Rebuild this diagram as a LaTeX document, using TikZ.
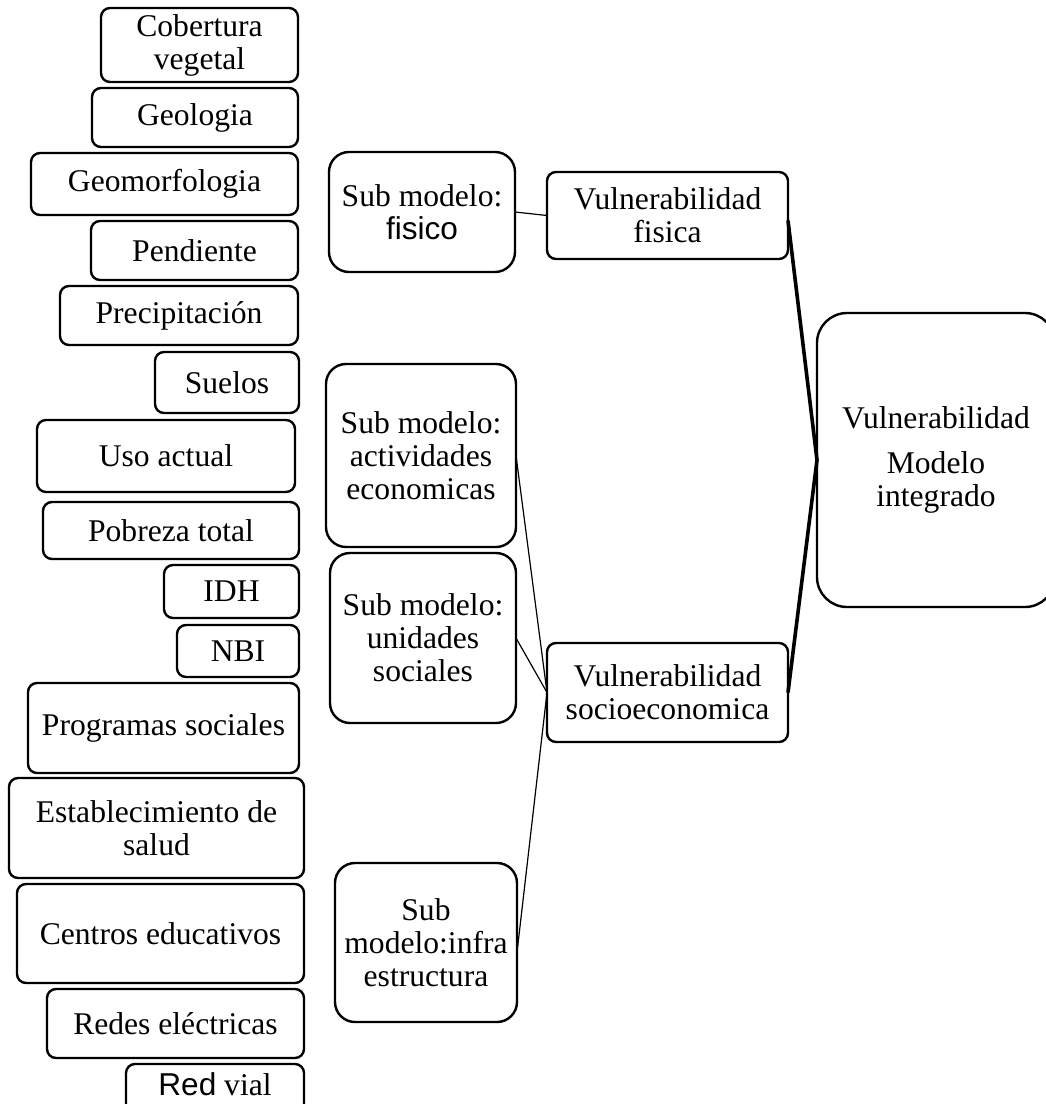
\documentclass[tikz,border=0pt]{standalone}
\usepackage{fontspec}
\setmainfont{Liberation Serif}
\newfontfamily\arialfont{Liberation Sans}
\begin{document}
\begin{tikzpicture}[x=1pt,y=-1pt,
  box/.style={draw, line width=2.4pt, rounded corners=9pt, align=center,
    inner sep=0pt, outer sep=0pt, font=\fontsize{31.6}{33}\selectfont},
  subbox/.style={box, rounded corners=20pt},
  bigbox/.style={box, rounded corners=30pt},
  thinlink/.style={line width=1.2pt},
  thicklink/.style={line width=3.6pt}]
\useasboundingbox (0,0) rectangle (1046,1104);

% input layers
\node[box, minimum width=197pt, minimum height=74pt]  (cob)  at (199.5,45)    {Cobertura\\vegetal};
\node[box, minimum width=206pt, minimum height=59pt]  (geo)  at (195,117.5)   {Geologia};
\node[box, minimum width=267pt, minimum height=62pt]  (gmf)  at (164.5,184)   {Geomorfologia};
\node[box, minimum width=207pt, minimum height=59pt]  (pen)  at (194.5,250.5) {Pendiente};
\node[box, minimum width=238pt, minimum height=59pt]  (pre)  at (179,315.5)   {Precipitación};
\node[box, minimum width=144pt, minimum height=61pt]  (sue)  at (227,382.5)   {Suelos};
\node[box, minimum width=258pt, minimum height=72pt]  (uso)  at (166,456)     {Uso actual};
\node[box, minimum width=256pt, minimum height=57pt]  (pob)  at (171,530.5)   {Pobreza total};
\node[box, minimum width=135pt, minimum height=53pt]  (idh)  at (231.5,591.5) {IDH};
\node[box, minimum width=122pt, minimum height=52pt]  (nbi)  at (238,651)     {NBI};
\node[box, minimum width=271pt, minimum height=90pt]  (prog) at (163.5,728)   {Programas sociales};
\node[box, minimum width=295pt, minimum height=100pt] (est)  at (156.5,828)   {Establecimiento de\\salud};
\node[box, minimum width=287pt, minimum height=99pt]  (cen)  at (160.5,933.5) {Centros educativos};
\node[box, minimum width=257pt, minimum height=69pt]  (red)  at (175.5,1023.5){Redes eléctricas};
% last box runs past the lower edge of the page
\node[box, minimum width=178pt, minimum height=56pt, text height=21pt, text depth=15pt]
  (vial) at (215,1092) {{\arialfont Red} vial};

% sub-models
\node[subbox, minimum width=186pt, minimum height=120pt] (sfis) at (422,212)   {Sub modelo:\\{\arialfont fisico}};
\node[subbox, minimum width=190pt, minimum height=183pt] (sact) at (421,455.5) {Sub modelo:\\actividades\\economicas};
\node[subbox, minimum width=186pt, minimum height=170pt] (suni) at (423,638)   {Sub modelo:\\unidades\\sociales};
\node[subbox, minimum width=182pt, minimum height=159pt] (sinf) at (426,942.5) {Sub\\modelo:infra\\estructura};

% vulnerability components
\node[box, minimum width=241pt, minimum height=87pt] (vfis) at (667.5,215.5) {Vulnerabilidad\\fisica};
\node[box, minimum width=241pt, minimum height=99pt] (vsoc) at (667.5,692.5) {Vulnerabilidad\\socioeconomica};

% integrated model
\node[bigbox, minimum width=238pt, minimum height=294pt] (vint) at (936,460)
  {Vulnerabilidad\\[12pt]Modelo\\integrado};

% connectors
\draw[thinlink] (sfis.east) -- (vfis.west);
\draw[thinlink] (sact.east) -- (vsoc.west);
\draw[thinlink] (suni.east) -- (vsoc.west);
\draw[thinlink] ([yshift=-10pt]sinf.east) -- (vsoc.west);
\draw[thicklink] ([yshift=-5pt]vfis.east) -- (vint.west);
\draw[thicklink] (vsoc.east) -- (vint.west);
\end{tikzpicture}
\end{document}
